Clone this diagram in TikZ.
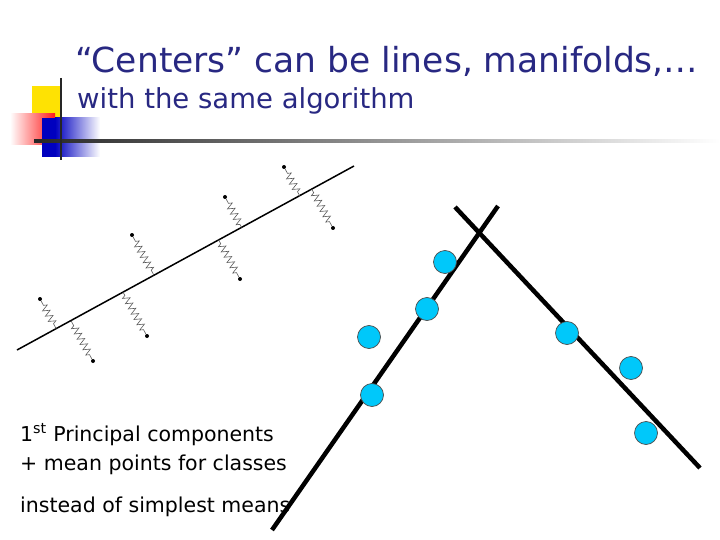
\documentclass[tikz,border=0pt]{standalone}
\usepackage{fontspec}
\setmainfont{DejaVu Sans}
\usetikzlibrary{decorations.pathmorphing,calc}
\definecolor{navy}{RGB}{40,40,130}
\definecolor{cyanb}{RGB}{0,200,250}
\begin{document}
\begin{tikzpicture}[x=1pt,y=-1pt,
  spring/.style={gray!70!black,line width=0.6pt,decorate,decoration={zigzag,segment length=6pt,amplitude=3.5pt,pre length=5pt,post length=3pt}},
  dot/.style={circle,fill=black,inner sep=0pt,minimum size=4pt},
  ball/.style={circle,draw=black!70,fill=cyanb,line width=0.7pt,minimum size=23pt,inner sep=0pt},
  thick line/.style={line width=4.5pt},
  txt/.style={anchor=base west,inner sep=0pt,font=\fontsize{20.5}{24}\selectfont}]
\useasboundingbox (0,0) rectangle (720,540);
% logo
\fill[yellow!85!orange] (32,86) rectangle (62,118);
\shade[left color=white,right color=red!90] (10,114) rectangle (55,145);
\shade[left color=blue!75!black,right color=white] (55,118) rectangle (100,157);
\fill[blue!75!black] (42,118) rectangle (56,157);
\shade[left color=black!85,right color=white] (34,140) rectangle (720,142.5);
\draw[line width=2.5pt,black!85] (61,78) -- (61,160);
% titles
\node[anchor=base west,inner sep=0pt,text=navy,font=\fontsize{34.5}{40}\selectfont] (title) at (75,73) {“Centers” can be lines, manifolds,…};
\node[anchor=base west,inner sep=0pt,text=navy,font=\fontsize{27.5}{32}\selectfont] (sub) at (77,109) {with the same algorithm};
% line with springs
\coordinate (L1) at (17,350);
\coordinate (L2) at (354,166);
\draw[line width=1.5pt] (L1) -- (L2);
\foreach \n/\px/\py in {a/40/299,b/132/235,c/225/197,d/284/167,e/93/361,f/147/336,g/240/279,h/333/228}{
  \node[dot] (p\n) at (\px,\py) {};
  \coordinate (q\n) at ($(L1)!(p\n)!(L2)$);
  \draw[spring] (p\n) -- (q\n);
}
% right lines
\coordinate (A1) at (455,207);
\coordinate (A2) at (700,468);
\coordinate (B1) at (498,206);
\coordinate (B2) at (272,530);
\draw[thick line] (A1) -- (A2);
\draw[thick line] (B1) -- (B2);
\foreach \n/\x/\y in {1/445/262,2/427/309,3/369/337,4/372/395,5/567/333,6/631/368,7/646/433}
  \node[ball] (c\n) at (\x,\y) {};
% text
\node[txt] (t1) at (20,441) {1\textsuperscript{st} Principal components};
\node[txt] (t2) at (20,470) {+ mean points for classes};
\node[txt] (t3) at (20,512) {instead of simplest means};
\end{tikzpicture}
\end{document}
